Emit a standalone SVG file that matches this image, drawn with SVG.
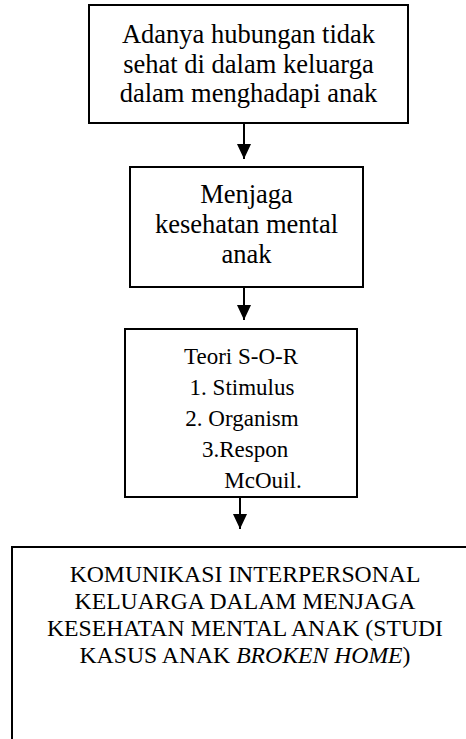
<svg xmlns="http://www.w3.org/2000/svg" width="466" height="739" viewBox="0 0 466 739">
<style>
.box{fill:#fff;stroke:#000;stroke-width:2}
.t{font-family:"Liberation Serif","Times New Roman",serif;fill:#000;text-anchor:middle}
.big{font-size:26.5px}
.mid{font-size:23px}
.sm{font-size:23.7px}
.edge{stroke:#000;stroke-width:2;fill:none;marker-end:url(#arr)}
</style>
<defs>
<marker id="arr" markerUnits="userSpaceOnUse" markerWidth="15" markerHeight="15" viewBox="0 0 15 14" refX="15" refY="7" orient="auto">
<path d="M0,0 L15,7 L0,14 z" fill="#000"/>
</marker>
</defs>
<rect width="466" height="739" fill="#fff"/>
<g id="connectors">
<line class="edge" x1="244" y1="123" x2="244" y2="159"/>
<line class="edge" x1="244" y1="287" x2="244" y2="320"/>
<line class="edge" x1="240" y1="497" x2="240" y2="529"/>
</g>
<g id="node1">
<rect class="box" x="89" y="5" width="319" height="118"/>
<text class="t big" x="248.5" y="43">Adanya hubungan tidak</text>
<text class="t big" x="248.5" y="73">sehat di dalam keluarga</text>
<text class="t big" x="248.5" y="102">dalam menghadapi anak</text>
</g>
<g id="node2">
<rect class="box" x="130" y="167" width="233" height="120"/>
<text class="t big" x="246.5" y="203">Menjaga</text>
<text class="t big" x="246.5" y="233">kesehatan mental</text>
<text class="t big" x="246.5" y="263">anak</text>
</g>
<g id="node3">
<rect class="box" x="125" y="329" width="232" height="168"/>
<text class="t mid" x="241" y="364">Teori S-O-R</text>
<text class="t mid" x="242" y="395">1. Stimulus</text>
<text class="t mid" x="242" y="426">2. Organism</text>
<text class="t mid" x="245" y="457">3.Respon</text>
<text class="t mid" x="263" y="488">McOuil.</text>
</g>
<g id="node4">
<rect class="box" x="12" y="547" width="500" height="300"/>
<text class="t sm" x="245" y="582">KOMUNIKASI INTERPERSONAL</text>
<text class="t sm" x="245" y="609">KELUARGA DALAM MENJAGA</text>
<text class="t sm" x="245" y="636">KESEHATAN MENTAL ANAK (STUDI</text>
<text class="t sm" x="245" y="663">KASUS ANAK <tspan font-style="italic">BROKEN HOME</tspan>)</text>
</g>
</svg>
